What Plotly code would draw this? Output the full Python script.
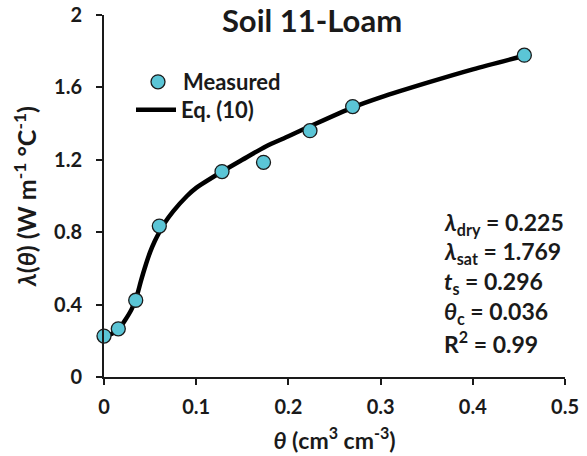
import plotly.graph_objects as go

# Measured thermal conductivity vs. volumetric water content
theta_meas = [0.0, 0.0155, 0.0344, 0.060, 0.128, 0.173, 0.2234, 0.2697, 0.4559]
lam_meas = [0.226, 0.266, 0.424, 0.834, 1.135, 1.186, 1.361, 1.494, 1.778]

# Fitted curve, Eq. (10)
theta_fit = [0.0, 0.008, 0.016, 0.023, 0.030, 0.036, 0.040, 0.045, 0.050,
             0.055, 0.060, 0.065, 0.075, 0.09, 0.10, 0.128, 0.15, 0.176,
             0.20, 0.2234, 0.27, 0.30, 0.35, 0.40, 0.456]
lam_fit = [0.225, 0.238, 0.265, 0.315, 0.375, 0.455, 0.53, 0.615, 0.69,
           0.75, 0.80, 0.845, 0.915, 1.0, 1.045, 1.135, 1.20, 1.275,
           1.33, 1.385, 1.49, 1.545, 1.625, 1.70, 1.775]

x_ticks = [0, 0.1, 0.2, 0.3, 0.4, 0.5]
x_ticklabels = ["0", "0.1", "0.2", "0.3", "0.4", "0.5"]
y_ticks = [0, 0.4, 0.8, 1.2, 1.6, 2.0]
y_ticklabels = ["0", "0.4", "0.8", "1.2", "1.6", "2"]

param_lines = [
    "<i>λ</i><sub>dry</sub> = 0.225",
    "<i>λ</i><sub>sat</sub> = 1.769",
    "<i>t</i><sub>s</sub> = 0.296",
    "<i>θ</i><sub>c</sub> = 0.036",
    "R<sup>2</sup> = 0.99",
]

FONT = "Lato"
INK = "#1a1a1a"

W, H = 587, 456
L, R, T, B = 104, 22, 15, 79
pw, ph = W - L - R, H - T - B


def px_x(px):
    return (px - L) / pw


def px_y(py):
    return 1 - (py - T) / ph


legend_font = dict(family=FONT, size=22, color=INK, weight="bold")

fig = go.Figure()
fig.add_trace(go.Scatter(
    x=theta_fit, y=lam_fit, mode="lines", name="Eq. (10)", legend="legend2",
    line=dict(color="black", width=4.5, shape="spline", smoothing=0.8),
))
fig.add_trace(go.Scatter(
    x=theta_meas, y=lam_meas, mode="markers", name="Measured", legend="legend",
    marker=dict(size=14, color="#5bc5d6", line=dict(color=INK, width=1.3)),
    cliponaxis=False,
))

for i, txt in enumerate(param_lines):
    fig.add_annotation(
        x=px_x(442), y=px_y(223 + 29.8 * i), xref="paper", yref="paper", text=txt,
        showarrow=False, xanchor="left", yanchor="middle",
        font=dict(family=FONT, size=23, color=INK, weight="bold"),
    )

fig.update_layout(
    width=W, height=H,
    margin=dict(l=L, r=R, t=T, b=B),
    paper_bgcolor="white", plot_bgcolor="white",
    showlegend=True,
    title=dict(text="Soil 11-Loam", x=px_x(312), xref="paper", xanchor="center",
               y=1 - 21 / H, yanchor="middle",
               font=dict(family=FONT, size=31, color=INK, weight="bold")),
    legend=dict(x=px_x(133), y=px_y(82), xanchor="left", yanchor="middle",
                bgcolor="rgba(0,0,0,0)", font=legend_font, itemwidth=40),
    legend2=dict(x=px_x(131), y=px_y(110), xanchor="left", yanchor="middle",
                 bgcolor="rgba(0,0,0,0)", font=legend_font, itemwidth=40),
    xaxis=dict(range=[0, 0.5], tickvals=x_ticks, ticktext=x_ticklabels,
               automargin=False,
               showgrid=False, zeroline=False, showline=True, linecolor=INK,
               linewidth=2, ticks="outside", ticklen=6, tickwidth=2, tickcolor=INK,
               ticklabelstandoff=5,
               tickfont=dict(family=FONT, size=20, color=INK, weight="bold"),
               title=dict(text="<i>θ</i> (cm<sup>3</sup> cm<sup>-3</sup>)", standoff=16,
                          font=dict(family=FONT, size=23, color=INK, weight="bold"))),
    yaxis=dict(range=[0, 2], tickvals=y_ticks, ticktext=y_ticklabels,
               automargin=False,
               showgrid=False, zeroline=False, showline=True, linecolor=INK,
               linewidth=2, ticks="outside", ticklen=6, tickwidth=2, tickcolor=INK,
               ticklabelstandoff=10,
               tickfont=dict(family=FONT, size=20, color=INK, weight="bold"),
               title=dict(text="<i>λ</i>(<i>θ</i>) (W m<sup>-1</sup> °C<sup>-1</sup>)", standoff=10,
                          font=dict(family=FONT, size=25, color=INK, weight="bold"))),
)

fig.write_html("out.html")
